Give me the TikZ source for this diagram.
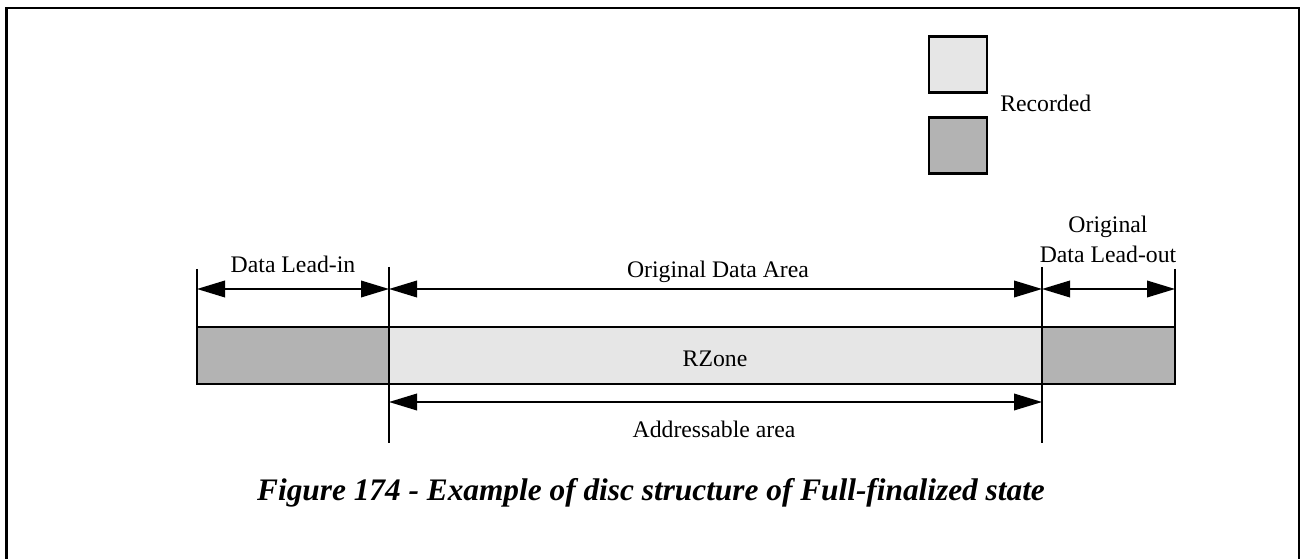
\documentclass[tikz,border=0pt]{standalone}
\usepackage{fontspec}
\setmainfont{Liberation Serif}
\usetikzlibrary{arrows.meta}
\definecolor{lightrec}{HTML}{E6E6E6}
\definecolor{darkrec}{HTML}{B3B3B3}
\begin{document}
\begin{tikzpicture}[x=0.75pt,y=-0.75pt,
  lbl/.style={font=\fontsize{17.8}{21}\selectfont, inner sep=0pt, anchor=base},
  seg/.style={draw=black, line width=1.1pt},
  tick/.style={draw=black, line width=1.1pt},
  dim/.style={line width=1.1pt, {Triangle[length=21pt,width=12.5pt]}-{Triangle[length=21pt,width=12.5pt]}},
  legbox/.style={draw=black, line width=1.6pt, minimum width=43pt, minimum height=42pt, inner sep=0pt}]
\useasboundingbox (0,0) rectangle (1302,559);
% frame (open at bottom)
\draw[line width=2.2pt] (6.5,570) -- (6.5,8) -- (1299,8) -- (1299,570);
% legend
\node[legbox, fill=lightrec] (leg1) at (958,64.5) {};
\node[legbox, fill=darkrec] (leg2) at (958,145.5) {};
\node[lbl, anchor=base west] (rec) at (1000,112) {Recorded};
% bar
\path[seg, fill=darkrec] (197,327) rectangle (389,384);
\path[seg, fill=lightrec] (389,327) rectangle (1042,384);
\path[seg, fill=darkrec] (1042,327) rectangle (1175,384);
\node[lbl] (rz) at (715,367) {RZone};
% ticks
\coordinate (a0) at (197,269); \coordinate (a1) at (389,267);
\coordinate (a2) at (1042,267); \coordinate (a3) at (1175,269);
\coordinate (b1) at (389,443); \coordinate (b2) at (1042,443);
\draw[tick] (a0) -- (197,327);
\draw[tick] (a1) -- (b1);
\draw[tick] (a2) -- (b2);
\draw[tick] (a3) -- (1175,327);
% dimension arrows
\coordinate (t0) at (197,289); \coordinate (t1) at (389,289);
\coordinate (t2) at (1042,289); \coordinate (t3) at (1175,289);
\coordinate (u1) at (389,402); \coordinate (u2) at (1042,402);
\draw[dim] (t0) -- (t1);
\draw[dim] (t1) -- (t2);
\draw[dim] (t2) -- (t3);
\draw[dim] (u1) -- (u2);
% labels
\node[lbl] (dli) at (293,273) {Data Lead-in};
\node[lbl] (oda) at (718,278) {Original Data Area};
\node[lbl] (orig) at (1108,233) {Original};
\node[lbl] (dlo) at (1108,263) {Data Lead-out};
\node[lbl] (adr) at (714,437) {Addressable area};
\node[font=\fontsize{23.5}{27}\selectfont\bfseries\itshape, inner sep=0pt] (cap) at (651,493) {Figure 174 - Example of disc structure of Full-finalized state};
\end{tikzpicture}
\end{document}
